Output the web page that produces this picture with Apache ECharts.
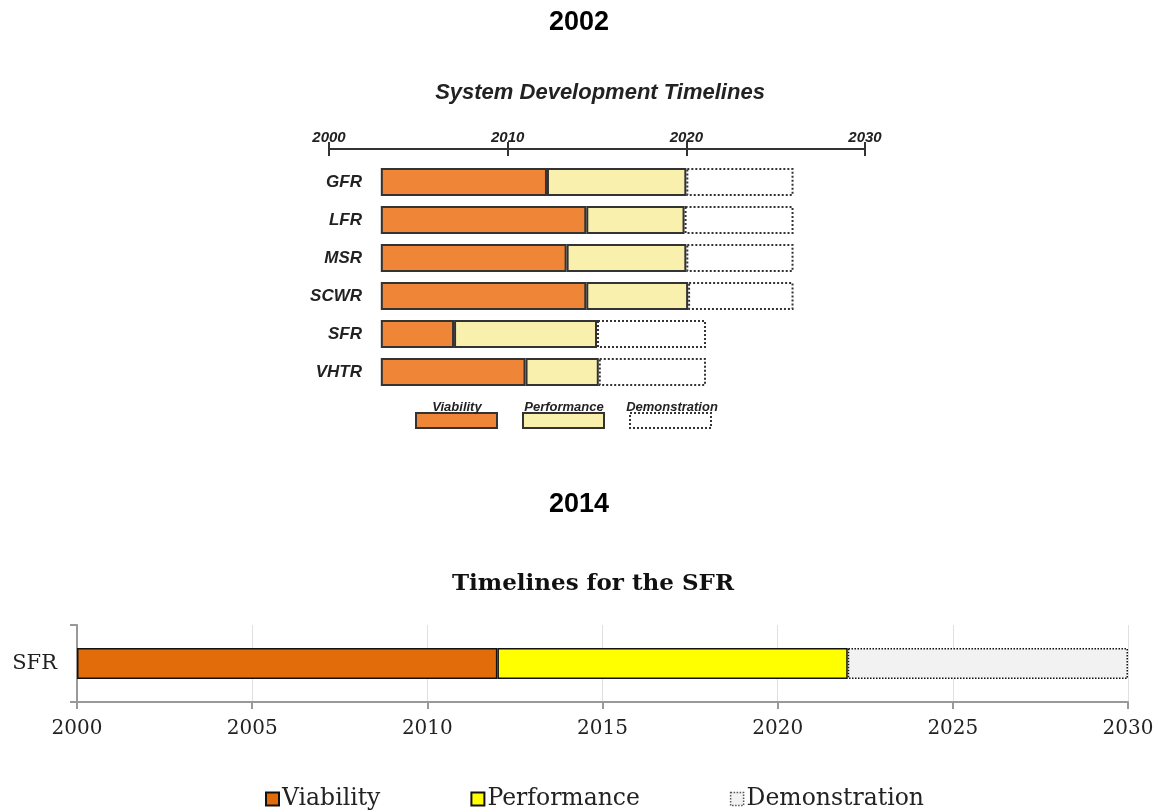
<!DOCTYPE html>
<html>
<head>
<meta charset="utf-8">
<script src="https://cdn.jsdelivr.net/npm/echarts@6/dist/echarts.min.js"></script>
<style>
  body { margin: 0; background: #fff; }
  #top { position: absolute; left: 0; top: 0; width: 1158px; height: 460px; }
  #bottom { position: absolute; left: 0; top: 460px; width: 1158px; height: 352px; }
</style>
</head>
<body>
<div id="top"></div>
<div id="bottom"></div>
<script>
// 2002 chart
var systems = ['GFR', 'LFR', 'MSR', 'SCWR', 'SFR', 'VHTR'];
var startYear = [2002.9, 2002.9, 2002.9, 2002.9, 2002.9, 2002.9];
var viabilityEnd = [2012.2, 2014.4, 2013.3, 2014.4, 2007, 2011];
var performanceEnd = [2020, 2019.9, 2020, 2020.1, 2015, 2015.1];
var demonstrationEnd = [2026, 2026, 2026, 2026, 2021.1, 2021.1];

// 2014 chart
var sfrCategory = ['SFR'];
var sfrStart = [2000];
var sfrViabilityEnd = [2012];
var sfrPerformanceEnd = [2022];
var sfrDemonstrationEnd = [2030];

function diff(a, b) { return a.map(function (v, i) { return +(v - b[i]).toFixed(2); }); }
function yearLabel(v) { return String(v); }

var topChart = echarts.init(document.getElementById('top'));
var darkLine = '#333';
var axisTop = {
  type: 'value', position: 'top', min: 2000, max: 2030, interval: 10, offset: 14,
  axisLine: { show: true, lineStyle: { color: darkLine, width: 2 } },
  axisTick: { show: true, length: 7, lineStyle: { color: darkLine, width: 2 } },
  axisLabel: { margin: 4, formatter: yearLabel, color: '#222', fontFamily: 'Liberation Sans', fontWeight: 'bold', fontStyle: 'italic', fontSize: 15 },
  splitLine: { show: false }
};
topChart.setOption({
  animation: false,
  title: [
    { text: '2002', left: 'center', top: 4, textStyle: { fontFamily: 'Liberation Sans', fontWeight: 'bold', fontSize: 27, color: '#000' } },
    { text: 'System Development Timelines', left: 595, textAlign: 'center', top: 77, textStyle: { fontFamily: 'Liberation Sans', fontWeight: 'bold', fontStyle: 'italic', fontSize: 22, color: '#222' } }
  ],
  grid: { left: 329, width: 536, top: 163, height: 228 },
  xAxis: [
    axisTop,
    Object.assign({}, axisTop, { axisLabel: { show: false }, axisTick: { show: true, inside: true, length: 7, lineStyle: { color: darkLine, width: 2 } } })
  ],
  yAxis: {
    type: 'category', inverse: true, data: systems, offset: -33,
    axisLine: { show: false }, axisTick: { show: false },
    axisLabel: { margin: 0, color: '#222', fontFamily: 'Liberation Sans', fontWeight: 'bold', fontStyle: 'italic', fontSize: 17 }
  },
  series: [
    { name: 'start', type: 'bar', stack: 't', barWidth: 28, silent: true, itemStyle: { color: 'transparent' }, data: startYear },
    { name: 'Viability', type: 'bar', stack: 't', barWidth: 28, itemStyle: { color: '#EF8536', borderColor: darkLine, borderWidth: 2 }, data: diff(viabilityEnd, startYear) },
    { name: 'Performance', type: 'bar', stack: 't', barWidth: 28, itemStyle: { color: '#F9F0AE', borderColor: darkLine, borderWidth: 2 }, data: diff(performanceEnd, viabilityEnd) },
    { name: 'Demonstration', type: 'bar', stack: 't', barWidth: 28, itemStyle: { color: '#fff', borderColor: darkLine, borderWidth: 2, borderType: 'dotted' }, data: diff(demonstrationEnd, performanceEnd) }
  ],
  graphic: [
    { type: 'rect', shape: { x: 416, y: 413, width: 81, height: 15 }, style: { fill: '#EF8536', stroke: darkLine, lineWidth: 2 } },
    { type: 'rect', shape: { x: 523, y: 413, width: 81, height: 15 }, style: { fill: '#F9F0AE', stroke: darkLine, lineWidth: 2 } },
    { type: 'rect', shape: { x: 630, y: 413, width: 81, height: 15 }, style: { fill: '#fff', stroke: darkLine, lineWidth: 2, lineDash: [2, 2] } },
    { type: 'text', x: 457, y: 407, style: { text: 'Viability', align: 'center', verticalAlign: 'middle', font: 'italic bold 13px "Liberation Sans"', fill: '#222' } },
    { type: 'text', x: 564, y: 407, style: { text: 'Performance', align: 'center', verticalAlign: 'middle', font: 'italic bold 13px "Liberation Sans"', fill: '#222' } },
    { type: 'text', x: 672, y: 407, style: { text: 'Demonstration', align: 'center', verticalAlign: 'middle', font: 'italic bold 13px "Liberation Sans"', fill: '#222' } }
  ]
});

var bottomChart = echarts.init(document.getElementById('bottom'));
var serif = 'DejaVu Serif';
bottomChart.setOption({
  animation: false,
  title: [
    { text: '2014', left: 'center', top: 26, textStyle: { fontFamily: 'Liberation Sans', fontWeight: 'bold', fontSize: 27, color: '#000' } },
    { text: 'Timelines for the SFR', left: 588, textAlign: 'center', top: 108, textStyle: { fontFamily: serif, fontWeight: 'bold', fontSize: 23, color: '#111' } }
  ],
  legend: {
    top: 322, left: 260, itemWidth: 13, itemHeight: 13, itemGap: 90,
    icon: 'rect',
    data: [
      { name: 'Viability' },
      { name: 'Performance' },
      { name: 'Demonstration', itemStyle: { color: '#F2F2F2', borderColor: '#555', borderWidth: 1.5, borderType: 'dotted' } }
    ],
    textStyle: { fontFamily: serif, fontSize: 23.5, color: '#222', padding: [0, 0, 0, -2] }
  },
  grid: { left: 77, right: 30, top: 165, height: 77 },
  xAxis: {
    type: 'value', min: 2000, max: 2030, interval: 5,
    axisLine: { show: true, lineStyle: { color: '#999', width: 2 } },
    axisTick: { show: true, length: 7, lineStyle: { color: '#999', width: 2 } },
    axisLabel: { margin: 17, formatter: yearLabel, color: '#222', fontFamily: serif, fontSize: 20 },
    splitLine: { show: true, lineStyle: { color: '#e0e0e0', width: 1 } }
  },
  yAxis: {
    type: 'category', data: sfrCategory,
    axisLine: { show: true, lineStyle: { color: '#999', width: 2 } },
    axisTick: { show: true, length: 7, lineStyle: { color: '#999', width: 2 } },
    axisLabel: { margin: 20, color: '#222', fontFamily: serif, fontSize: 21 }
  },
  series: [
    { name: 'start', type: 'bar', stack: 's', barWidth: 31, silent: true, itemStyle: { color: 'transparent' }, data: sfrStart },
    { name: 'Viability', type: 'bar', stack: 's', barWidth: 31, itemStyle: { color: '#E36C0A', borderColor: '#111', borderWidth: 1.5 }, data: diff(sfrViabilityEnd, sfrStart) },
    { name: 'Performance', type: 'bar', stack: 's', barWidth: 31, itemStyle: { color: '#FFFF00', borderColor: '#111', borderWidth: 1.5 }, data: diff(sfrPerformanceEnd, sfrViabilityEnd) },
    { name: 'Demonstration', type: 'bar', stack: 's', barWidth: 31, itemStyle: { color: '#F2F2F2', borderColor: '#111', borderWidth: 1.5, borderType: 'dotted' }, data: diff(sfrDemonstrationEnd, sfrPerformanceEnd) }
  ]
});
</script>
</body>
</html>
